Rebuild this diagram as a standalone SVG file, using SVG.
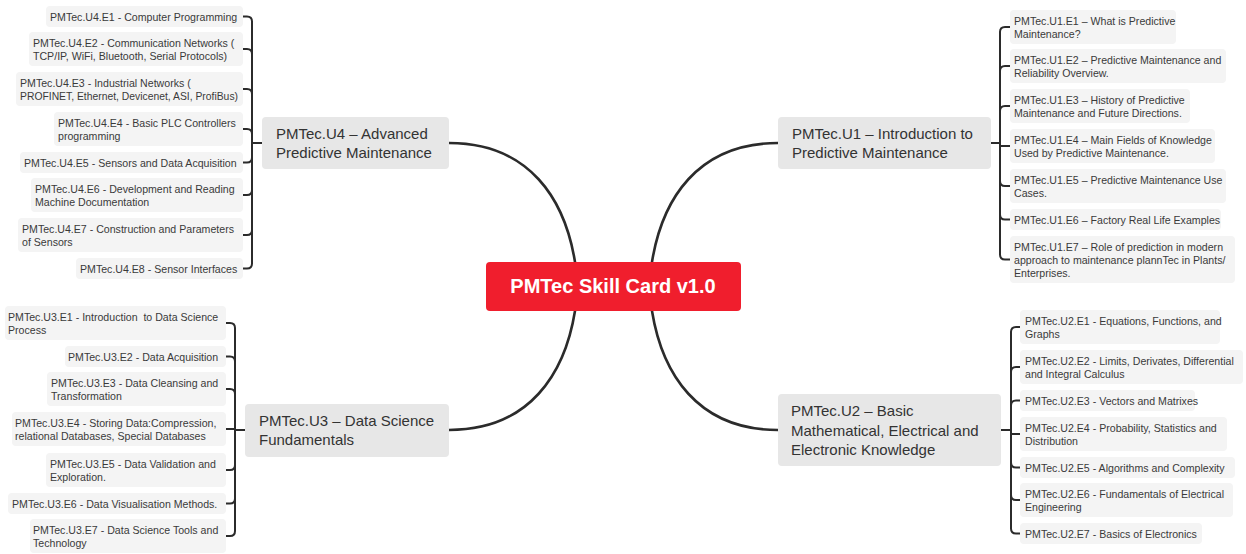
<svg xmlns="http://www.w3.org/2000/svg" width="1246" height="554" viewBox="0 0 1246 554">
<style>
text{font-family:"Liberation Sans",Arial,sans-serif;}
.lf{fill:#f4f4f4;}
.lt{font-size:10.6px;fill:#3a3a3a;}
.nd{fill:#e7e7e7;}
.nt{font-size:15px;fill:#333;}
.root{fill:#f01e2d;}
.rt{font-size:20px;font-weight:bold;fill:#fff;}
.main{fill:none;stroke:#2b2b2b;stroke-width:2.6;stroke-linecap:round;}
.br{fill:none;stroke:#2b2b2b;stroke-width:2;}
</style>
<rect width="1246" height="554" fill="#fff"/>
<g id="connectors">
<path class="main" d="M449,143 C530,143 565,200 575,262"/>
<path class="main" d="M778,143 C697,143 662,200 652,262"/>
<path class="main" d="M449,430 C530,430 565,373 575,311"/>
<path class="main" d="M778,430 C697,430 662,373 652,311"/>
<path class="br" d="M262,143 H252"/>
<path class="br" d="M252,143 V21.5 Q252,16.5 247,16.5 H243"/>
<path class="br" d="M252,143 V54 Q252,49 247,49 H243"/>
<path class="br" d="M252,143 V94 Q252,89 247,89 H243"/>
<path class="br" d="M252,143 V134 Q252,129 247,129 H243"/>
<path class="br" d="M252,143 V157.5 Q252,162.5 247,162.5 H243"/>
<path class="br" d="M252,143 V190 Q252,195 247,195 H243"/>
<path class="br" d="M252,143 V230 Q252,235 247,235 H243"/>
<path class="br" d="M252,143 V263.5 Q252,268.5 247,268.5 H243"/>
<path class="br" d="M245,430 H235"/>
<path class="br" d="M235,430 V328 Q235,323 230,323 H226"/>
<path class="br" d="M235,430 V361.5 Q235,356.5 230,356.5 H226"/>
<path class="br" d="M235,430 V394 Q235,389 230,389 H226"/>
<path class="br" d="M235,430 V429 H226"/>
<path class="br" d="M235,430 V465 Q235,470 230,470 H226"/>
<path class="br" d="M235,430 V498.5 Q235,503.5 230,503.5 H226"/>
<path class="br" d="M235,430 V531 Q235,536 230,536 H226"/>
<path class="br" d="M991,143 H1000"/>
<path class="br" d="M1000,143 V32 Q1000,27 1005,27 H1010"/>
<path class="br" d="M1000,143 V71 Q1000,66 1005,66 H1010"/>
<path class="br" d="M1000,143 V111 Q1000,106 1005,106 H1010"/>
<path class="br" d="M1000,143 V146 H1010"/>
<path class="br" d="M1000,143 V181 Q1000,186 1005,186 H1010"/>
<path class="br" d="M1000,143 V214.5 Q1000,219.5 1005,219.5 H1010"/>
<path class="br" d="M1000,143 V254.5 Q1000,259.5 1005,259.5 H1010"/>
<path class="br" d="M1001,430 H1011"/>
<path class="br" d="M1011,430 V332 Q1011,327 1016,327 H1020"/>
<path class="br" d="M1011,430 V372 Q1011,367 1016,367 H1020"/>
<path class="br" d="M1011,430 V405.5 Q1011,400.5 1016,400.5 H1020"/>
<path class="br" d="M1011,430 V434 H1020"/>
<path class="br" d="M1011,430 V462.5 Q1011,467.5 1016,467.5 H1020"/>
<path class="br" d="M1011,430 V495 Q1011,500 1016,500 H1020"/>
<path class="br" d="M1011,430 V528.5 Q1011,533.5 1016,533.5 H1020"/>
</g>
<g id="root">
<rect class="root" x="486" y="262" width="255" height="49" rx="4"/>
<text class="rt" x="613" y="293" text-anchor="middle">PMTec Skill Card v1.0</text>
</g>
<g id="u4">
<rect class="nd" x="262" y="117" width="187" height="52" rx="4"/>
<text class="nt" x="276" y="139">PMTec.U4 – Advanced</text>
<text class="nt" x="276" y="158">Predictive Maintenance</text>
</g>
<g id="u1">
<rect class="nd" x="778" y="117" width="213" height="52" rx="4"/>
<text class="nt" x="792" y="139">PMTec.U1 – Introduction to</text>
<text class="nt" x="792" y="158">Predictive Maintenance</text>
</g>
<g id="u3">
<rect class="nd" x="245" y="404" width="204" height="53" rx="4"/>
<text class="nt" x="259" y="426">PMTec.U3 – Data Science</text>
<text class="nt" x="259" y="445">Fundamentals</text>
</g>
<g id="u2">
<rect class="nd" x="778" y="394" width="223" height="72" rx="4"/>
<text class="nt" x="791" y="416">PMTec.U2 – Basic</text>
<text class="nt" x="791" y="435.5">Mathematical, Electrical and</text>
<text class="nt" x="791" y="455">Electronic Knowledge</text>
</g>
<g id="u4-e1"><rect class="lf" x="46" y="6" width="197" height="21" rx="4"/><text class="lt" x="50" y="20.5">PMTec.U4.E1 - Computer Programming</text></g>
<g id="u4-e2"><rect class="lf" x="29" y="32" width="214" height="34" rx="4"/><text class="lt" x="33" y="46.5">PMTec.U4.E2 - Communication Networks (</text><text class="lt" x="33" y="59.5">TCP/IP, WiFi, Bluetooth, Serial Protocols)</text></g>
<g id="u4-e3"><rect class="lf" x="16" y="72" width="227" height="34" rx="4"/><text class="lt" x="20" y="86.5">PMTec.U4.E3 - Industrial Networks (</text><text class="lt" x="20" y="99.5" textLength="218" lengthAdjust="spacingAndGlyphs">PROFINET, Ethernet, Devicenet, ASI, ProfiBus)</text></g>
<g id="u4-e4"><rect class="lf" x="54" y="112" width="189" height="34" rx="4"/><text class="lt" x="58" y="126.5">PMTec.U4.E4 - Basic PLC Controllers</text><text class="lt" x="58" y="139.5">programming</text></g>
<g id="u4-e5"><rect class="lf" x="20" y="152" width="223" height="21" rx="4"/><text class="lt" x="24" y="166.5">PMTec.U4.E5 - Sensors and Data Acquisition</text></g>
<g id="u4-e6"><rect class="lf" x="31" y="178" width="212" height="34" rx="4"/><text class="lt" x="35" y="192.5">PMTec.U4.E6 - Development and Reading</text><text class="lt" x="35" y="205.5">Machine Documentation</text></g>
<g id="u4-e7"><rect class="lf" x="18" y="218" width="225" height="34" rx="4"/><text class="lt" x="22" y="232.5">PMTec.U4.E7 - Construction and Parameters</text><text class="lt" x="22" y="245.5">of Sensors</text></g>
<g id="u4-e8"><rect class="lf" x="76" y="258" width="167" height="21" rx="4"/><text class="lt" x="80" y="272.5">PMTec.U4.E8 - Sensor Interfaces</text></g>
<g id="u3-e1"><rect class="lf" x="5" y="306" width="221" height="34" rx="4"/><text class="lt" x="8" y="320.5">PMTec.U3.E1 - Introduction&#160; to Data Science</text><text class="lt" x="8" y="333.5">Process</text></g>
<g id="u3-e2"><rect class="lf" x="65" y="346" width="161" height="21" rx="4"/><text class="lt" x="68" y="360.5">PMTec.U3.E2 - Data Acquisition</text></g>
<g id="u3-e3"><rect class="lf" x="47" y="372" width="179" height="34" rx="4"/><text class="lt" x="51" y="386.5">PMTec.U3.E3 - Data Cleansing and</text><text class="lt" x="51" y="399.5">Transformation</text></g>
<g id="u3-e4"><rect class="lf" x="12" y="412" width="214" height="34" rx="4"/><text class="lt" x="15" y="426.5">PMTec.U3.E4 - Storing Data:Compression,</text><text class="lt" x="15" y="439.5">relational Databases, Special Databases</text></g>
<g id="u3-e5"><rect class="lf" x="46" y="453" width="180" height="34" rx="4"/><text class="lt" x="50" y="467.5">PMTec.U3.E5 - Data Validation and</text><text class="lt" x="50" y="480.5">Exploration.</text></g>
<g id="u3-e6"><rect class="lf" x="8" y="493" width="218" height="21" rx="4"/><text class="lt" x="12" y="507.5">PMTec.U3.E6 - Data Visualisation Methods.</text></g>
<g id="u3-e7"><rect class="lf" x="30" y="519" width="196" height="34" rx="4"/><text class="lt" x="33" y="533.5">PMTec.U3.E7 - Data Science Tools and</text><text class="lt" x="33" y="546.5">Technology</text></g>
<g id="u1-e1"><rect class="lf" x="1010" y="10" width="166" height="34" rx="4"/><text class="lt" x="1014" y="24.5">PMTec.U1.E1 – What is Predictive</text><text class="lt" x="1014" y="37.5">Maintenance?</text></g>
<g id="u1-e2"><rect class="lf" x="1010" y="49" width="216" height="34" rx="4"/><text class="lt" x="1014" y="63.5">PMTec.U1.E2 – Predictive Maintenance and</text><text class="lt" x="1014" y="76.5">Reliability Overview.</text></g>
<g id="u1-e3"><rect class="lf" x="1010" y="89" width="180" height="34" rx="4"/><text class="lt" x="1014" y="103.5">PMTec.U1.E3 – History of Predictive</text><text class="lt" x="1014" y="116.5">Maintenance and Future Directions.</text></g>
<g id="u1-e4"><rect class="lf" x="1010" y="129" width="205" height="34" rx="4"/><text class="lt" x="1014" y="143.5">PMTec.U1.E4 – Main Fields of Knowledge</text><text class="lt" x="1014" y="156.5">Used by Predictive Maintenance.</text></g>
<g id="u1-e5"><rect class="lf" x="1010" y="169" width="216" height="34" rx="4"/><text class="lt" x="1014" y="183.5">PMTec.U1.E5 – Predictive Maintenance Use</text><text class="lt" x="1014" y="196.5">Cases.</text></g>
<g id="u1-e6"><rect class="lf" x="1010" y="209" width="211" height="21" rx="4"/><text class="lt" x="1014" y="223.5">PMTec.U1.E6 – Factory Real Life Examples</text></g>
<g id="u1-e7"><rect class="lf" x="1010" y="236" width="225" height="47" rx="4"/><text class="lt" x="1014" y="250.5">PMTec.U1.E7 – Role of prediction in modern</text><text class="lt" x="1014" y="263.5">approach to maintenance plannTec in Plants/</text><text class="lt" x="1014" y="276.5">Enterprises.</text></g>
<g id="u2-e1"><rect class="lf" x="1020" y="310" width="200" height="34" rx="4"/><text class="lt" x="1025" y="324.5">PMTec.U2.E1 - Equations, Functions, and</text><text class="lt" x="1025" y="337.5">Graphs</text></g>
<g id="u2-e2"><rect class="lf" x="1020" y="350" width="223" height="34" rx="4"/><text class="lt" x="1025" y="364.5">PMTec.U2.E2 - Limits, Derivates, Differential</text><text class="lt" x="1025" y="377.5">and Integral Calculus</text></g>
<g id="u2-e3"><rect class="lf" x="1020" y="390" width="175" height="21" rx="4"/><text class="lt" x="1025" y="404.5">PMTec.U2.E3 - Vectors and Matrixes</text></g>
<g id="u2-e4"><rect class="lf" x="1020" y="417" width="207" height="34" rx="4"/><text class="lt" x="1025" y="431.5">PMTec.U2.E4 - Probability, Statistics and</text><text class="lt" x="1025" y="444.5">Distribution</text></g>
<g id="u2-e5"><rect class="lf" x="1020" y="457" width="215" height="21" rx="4"/><text class="lt" x="1025" y="471.5">PMTec.U2.E5 - Algorithms and Complexity</text></g>
<g id="u2-e6"><rect class="lf" x="1020" y="483" width="213" height="34" rx="4"/><text class="lt" x="1025" y="497.5">PMTec.U2.E6 - Fundamentals of Electrical</text><text class="lt" x="1025" y="510.5">Engineering</text></g>
<g id="u2-e7"><rect class="lf" x="1020" y="523" width="182" height="21" rx="4"/><text class="lt" x="1025" y="537.5">PMTec.U2.E7 - Basics of Electronics</text></g>
</svg>
